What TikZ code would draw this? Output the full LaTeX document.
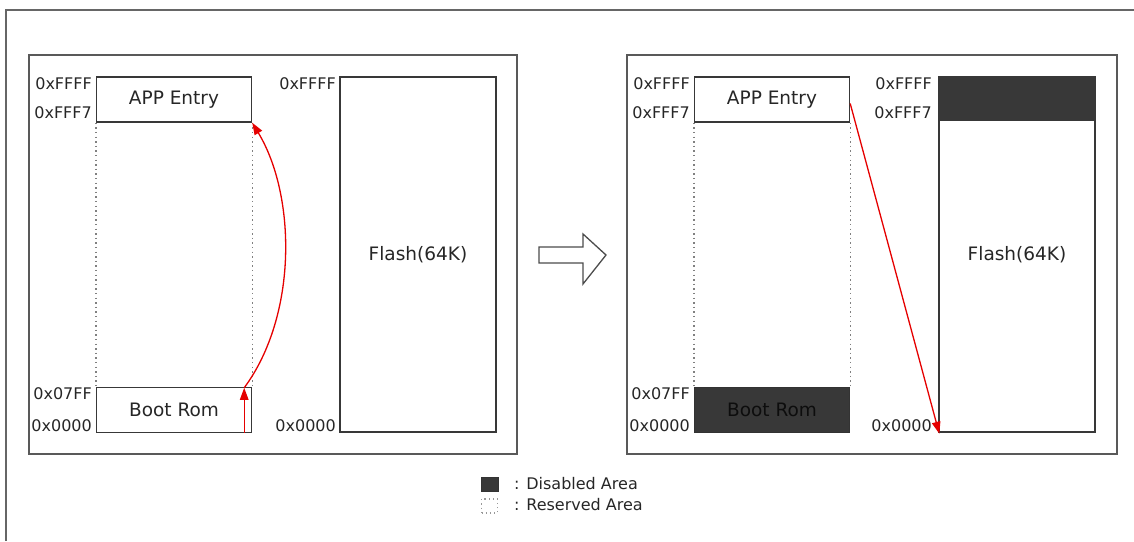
\documentclass[tikz,border=0pt]{standalone}
\usepackage{fontspec}
\setmainfont{DejaVu Sans}
\usetikzlibrary{arrows.meta}
\begin{document}
\begin{tikzpicture}[x=1pt,y=-1pt,
  frame/.style={draw=black!60, line width=1.6pt},
  panel/.style={draw=black!65, line width=1.5pt},
  memblk/.style={draw=black!78, line width=1.4pt, minimum width=155pt, minimum height=45pt, inner sep=0pt, font=\fontsize{18.5}{20}\selectfont, text=black!85},
  flashblk/.style={memblk, minimum width=156pt, minimum height=355pt},
  addr/.style={anchor=east, inner sep=0pt, font=\fontsize{16}{18}\selectfont, text=black!85},
  resv/.style={draw=black!50, line width=1.4pt, dash pattern=on 1.4pt off 3.2pt},
  redarrow/.style={draw=red!90!black, line width=1.3pt, -{Triangle[length=12pt,width=8.5pt]}},
  disabled/.style={fill=black!78, draw=black!80},
  legtext/.style={anchor=west, inner sep=0pt, font=\fontsize{16}{18}\selectfont, text=black!85}
]
\useasboundingbox (0,0) rectangle (1134,541);
% outer frame (cropped)
\draw[frame] (6,541) -- (6,10) -- (1134,10);
% panels
\draw[panel] (29,55) rectangle (517,454);
\draw[panel] (627,55) rectangle (1117,454);

% ---------- left panel ----------
\node[memblk] (appL) at (174,99.5) {APP Entry};
\node[memblk] (bootL) at (174,410) {Boot Rom};
\node[flashblk] (flashL) at (418,254.5) {Flash(64K)};
\draw[resv] (appL.south west) -- (bootL.north west);
\draw[resv] (appL.south east) -- (bootL.north east);
\node[addr] (aL1) at (92,84) {0xFFFF};
\node[addr] (aL2) at (92,113) {0xFFF7};
\node[addr] (aL3) at (92,394) {0x07FF};
\node[addr] (aL4) at (92,426) {0x0000};
\node[addr] (fL1) at (336,84) {0xFFFF};
\node[addr] (fL2) at (336,426) {0x0000};
\coordinate (bs) at ([xshift=-8pt]bootL.south east);
\coordinate (bn) at ([xshift=-8pt,yshift=-1pt]bootL.north east);
\draw[redarrow] (bs) -- (bn);
\draw[redarrow] (bn) .. controls (298,315) and (296,195) .. (appL.south east);

% ---------- transition arrow ----------
\draw[draw=black!70, line width=1.3pt, fill=white]
  (539,247) -- (583,247) -- (583,234) -- (606,255) -- (583,284) -- (583,263) -- (539,263) -- cycle;

% ---------- right panel ----------
\node[memblk] (appR) at (772,99.5) {APP Entry};
\node[memblk, disabled, text=black!95] (bootR) at (772,410) {Boot Rom};
\node[flashblk] (flashR) at (1017,254.5) {Flash(64K)};
\fill[black!78] (flashR.north west) rectangle ([yshift=-45pt]flashR.north east);
\draw[draw=black!78, line width=1.4pt] (flashR.north west) rectangle (flashR.south east);
\draw[resv] (appR.south west) -- (bootR.north west);
\draw[resv] (appR.south east) -- (bootR.north east);
\node[addr] (aR1) at (690,84) {0xFFFF};
\node[addr] (aR2) at (690,113) {0xFFF7};
\node[addr] (aR3) at (690,394) {0x07FF};
\node[addr] (aR4) at (690,426) {0x0000};
\node[addr] (fR1) at (932,84) {0xFFFF};
\node[addr] (fR2) at (932,113) {0xFFF7};
\node[addr] (fR3) at (932,426) {0x0000};
\draw[redarrow] ([yshift=-4pt]appR.east) -- ([xshift=1pt,yshift=-1pt]flashR.south west);

% ---------- legend ----------
\node[disabled, minimum width=17pt, minimum height=14pt, inner sep=0pt] (legD) at (489.5,484) {};
\node[draw=black!40, line width=1.2pt, dash pattern=on 1.2pt off 3pt, minimum width=16pt, minimum height=14pt, inner sep=0pt] (legR) at (489.5,506) {};
\node[legtext] (legDt) at (514,484) {: Disabled Area};
\node[legtext] (legRt) at (514,505) {: Reserved Area};
\end{tikzpicture}
\end{document}
